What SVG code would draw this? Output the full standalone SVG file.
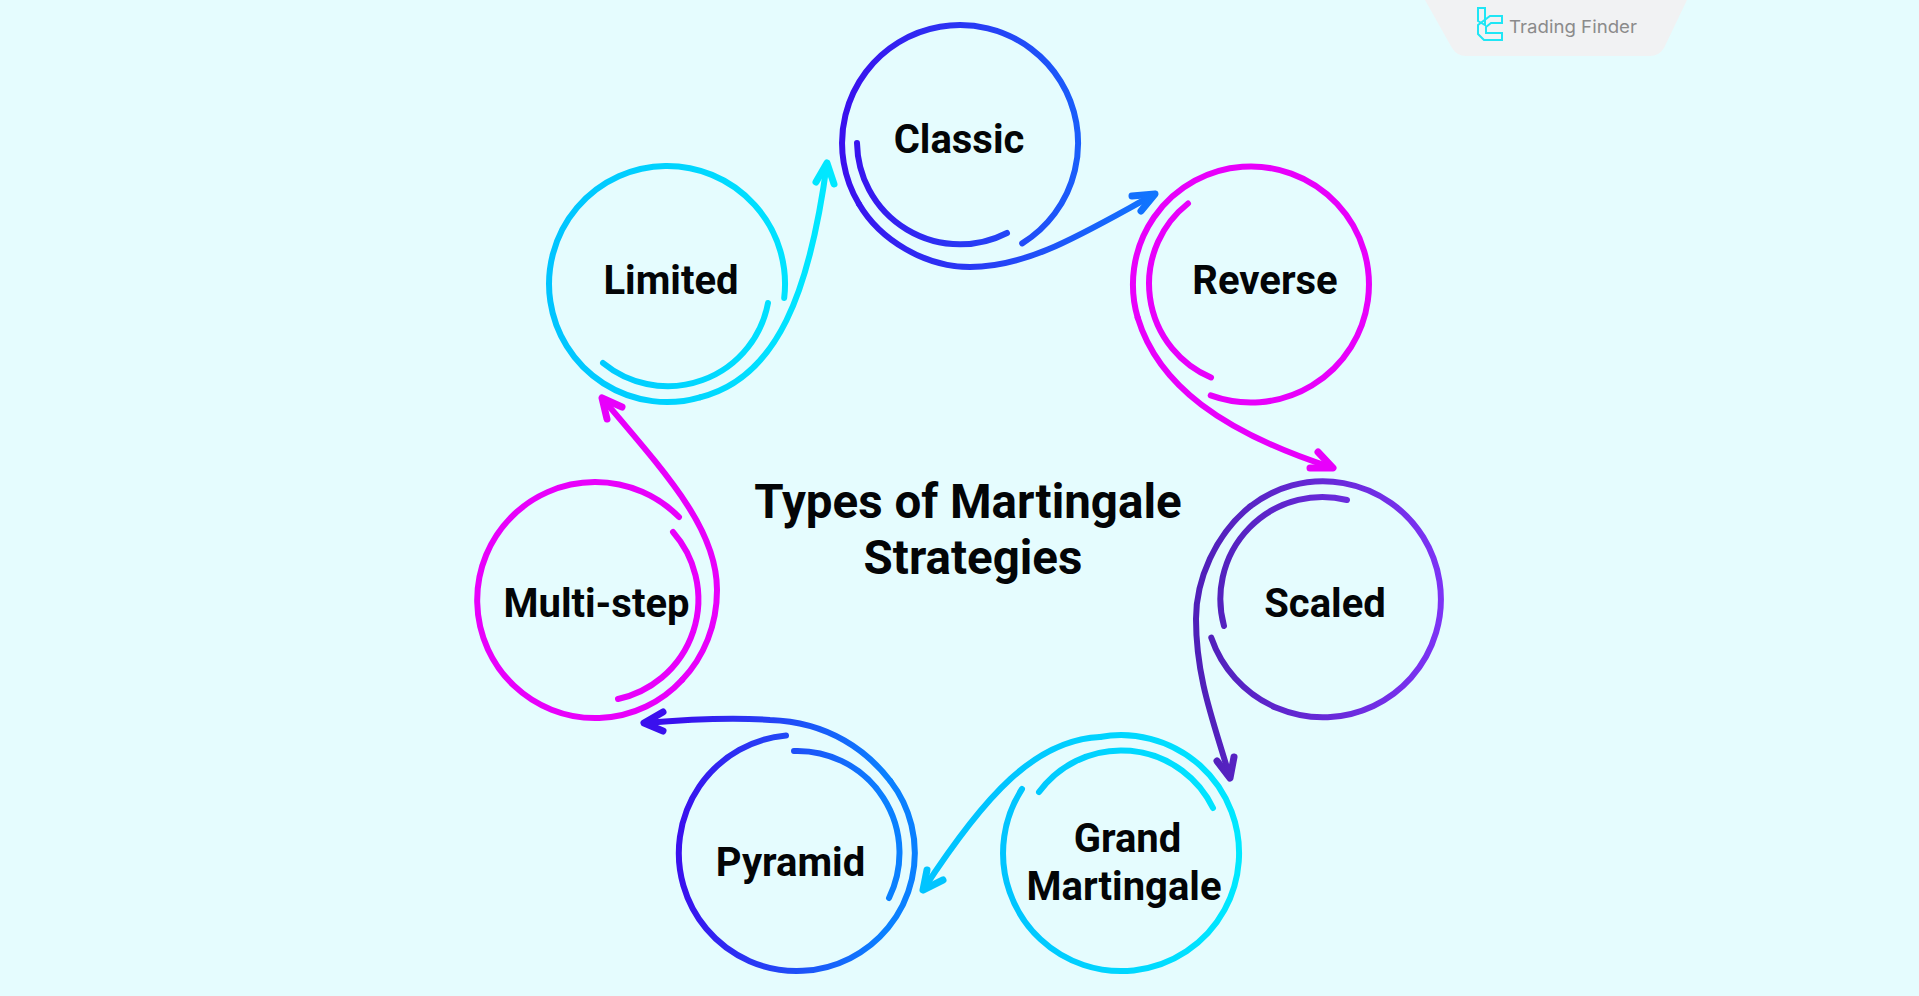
<svg xmlns="http://www.w3.org/2000/svg" width="1919" height="996" viewBox="0 0 1919 996">
<style>
.ln{fill:none;stroke-width:6;stroke-linecap:round;stroke-linejoin:round}
.hd{fill:none;stroke-width:7;stroke-linecap:round;stroke-linejoin:round}
.lb{font-family:Roboto,"Liberation Sans",sans-serif;font-weight:700;font-size:40px;fill:#030507;text-anchor:middle}
.tt{font-family:Roboto,"Liberation Sans",sans-serif;font-weight:700;font-size:47.5px;fill:#030507;text-anchor:middle}
.a{stroke:url(#gClassic)}.b{stroke:#e800fb}.c{stroke:url(#gScaled)}.d{stroke:url(#gGrand)}.e{stroke:url(#gPyramid)}.f{stroke:url(#gLimited)}
</style>
<defs>
<linearGradient id="gClassic" gradientUnits="userSpaceOnUse" x1="843" y1="0" x2="1160" y2="0"><stop offset="0" stop-color="#3a10ee"/><stop offset="1" stop-color="#0f78ff"/></linearGradient>
<linearGradient id="gScaled" gradientUnits="userSpaceOnUse" x1="1196" y1="0" x2="1442" y2="0"><stop offset="0" stop-color="#4f1fb8"/><stop offset="1" stop-color="#7d33f5"/></linearGradient>
<linearGradient id="gGrand" gradientUnits="userSpaceOnUse" x1="1003" y1="0" x2="1239" y2="0"><stop offset="0" stop-color="#00c4ff"/><stop offset="1" stop-color="#00e8ff"/></linearGradient>
<linearGradient id="gPyramid" gradientUnits="userSpaceOnUse" x1="680" y1="0" x2="885" y2="0"><stop offset="0" stop-color="#3a10ee"/><stop offset="1" stop-color="#0a80ff"/></linearGradient>
<linearGradient id="gLimited" gradientUnits="userSpaceOnUse" x1="550" y1="0" x2="830" y2="0"><stop offset="0" stop-color="#00c4ff"/><stop offset="1" stop-color="#00e8ff"/></linearGradient>
</defs>
<rect width="1919" height="996" fill="#e5fcfe"/>
<g id="watermark">
<path d="M1425 0 L1452 48 Q1457 56 1466 56 L1650 56 Q1659 56 1664 48 L1687 0 Z" fill="#f1f2f3"/>
<path d="M1478 8 H1485 V25 L1478 21 Z M1502 16 H1490 L1478 25 V34 L1484 40 H1502 V33 H1486 V27 L1491 23 H1502 Z" fill="none" stroke="#1fe6f5" stroke-width="2"/>
<text x="1509" y="33" font-family="Inter,'Liberation Sans',sans-serif" font-size="17.5" fill="#8b8b8b" textLength="128" lengthAdjust="spacingAndGlyphs">Trading Finder</text>
</g>
<g id="node-classic">
<path class="ln a" d="M1022.2 243.4 A118 118 0 1 0 859 204"/>
<path class="ln a" d="M857 143 A103 103 0 0 0 1007 233"/>
<text class="lb" x="959" y="153">Classic</text>
</g>
<g id="node-reverse">
<path class="ln b" d="M1210.7 395.4 A118 118 0 1 0 1137.7 317.6"/>
<path class="ln b" d="M1188 203.5 A102 102 0 0 0 1211 377.5"/>
<text class="lb" x="1265" y="294">Reverse</text>
</g>
<g id="node-scaled">
<path class="ln c" d="M1211.3 637.7 A118 118 0 1 0 1250 506.5"/>
<path class="ln c" d="M1347 500 A102 102 0 0 0 1224 626"/>
<text class="lb" x="1325" y="616.5">Scaled</text>
</g>
<g id="node-grand">
<path class="ln d" d="M1022 789 A118 118 0 1 0 1100 737"/>
<path class="ln d" d="M1213 808 A102 102 0 0 0 1039 792"/>
<text class="lb" x="1127.5" y="851.5">Grand</text>
<text class="lb" x="1124" y="899.5">Martingale</text>
</g>
<g id="node-pyramid">
<path class="ln e" d="M786 735.5 A118 118 0 1 0 890.3 781"/>
<path class="ln e" d="M889 898 A102 102 0 0 0 794 751"/>
<text class="lb" x="790.5" y="876">Pyramid</text>
</g>
<g id="node-multistep">
<path class="ln b" d="M679 517 A118 118 0 1 0 682 680"/>
<path class="ln b" d="M618 699 A102 102 0 0 0 673 532"/>
<text class="lb" x="596.5" y="617">Multi-step</text>
</g>
<g id="node-limited">
<path class="ln f" d="M784.2 298 A118 118 0 1 0 700 397.3"/>
<path class="ln f" d="M768 303 A102 102 0 0 1 603 363"/>
<text class="lb" x="671" y="294">Limited</text>
</g>
<g id="title">
<text class="tt" x="968" y="518">Types of Martingale</text>
<text class="tt" x="973" y="574">Strategies</text>
</g>
<g id="connectors">
<path class="ln a" d="M859 204 C880 240 925 267 970 267 C1030 267 1085 232 1155 194"/>
<path class="hd a" d="M1132 196 L1155 194 L1141 211"/>
<path class="ln b" d="M1137.7 317.6 C1158 385 1222 432 1333 468"/>
<path class="hd b" d="M1318 452 L1333 468 L1310 468"/>
<path class="ln c" d="M1250 506.5 C1215 535 1196 580 1196 619 C1196 680 1215 725 1230 778"/>
<path class="hd c" d="M1217 761 L1230 778 L1234 757"/>
<path class="ln d" d="M1100 737 C1035 740 985 795 923 890"/>
<path class="hd d" d="M927 870 L923 890 L943 880"/>
<path class="ln e" d="M890.3 781 C868 752 830 722 770 720 C730 717 680 720 644 723"/>
<path class="hd e" d="M663 712 L644 723 L663 731"/>
<path class="ln b" d="M682 680 C704 657 717 625 717 590 C717 530 670 478 602 398"/>
<path class="hd b" d="M622 407 L602 398 L607 419"/>
<path class="ln f" d="M700 397.3 C778 378 810 290 827 163"/>
<path class="hd f" d="M816 182 L827 163 L834 184"/>
</g>
</svg>
